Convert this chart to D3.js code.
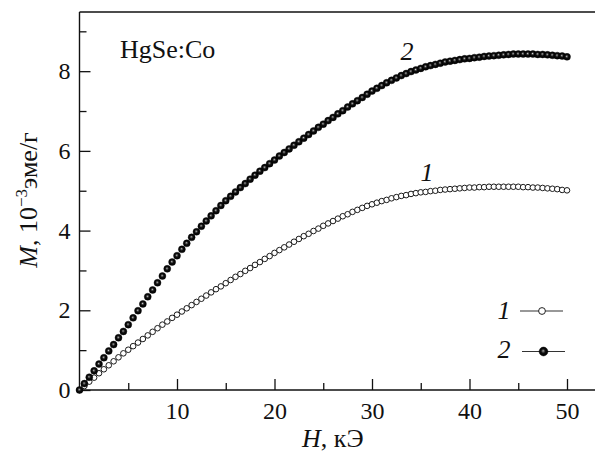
<!DOCTYPE html>
<html><head><meta charset="utf-8">
<script src="https://cdn.jsdelivr.net/npm/d3@7"></script>
<style>
html,body{margin:0;padding:0;background:#fff;}
</style></head>
<body><svg id="c" width="595" height="454" font-family="Liberation Serif"></svg>
<script>
// ---- data ----
const H = [0,0.5,1,1.5,2,2.5,3,3.5,4,4.5,5,5.5,6,6.5,7,7.5,8,8.5,9,9.5,10,10.5,11,11.5,12,12.5,13,13.5,14,14.5,15,15.5,16,16.5,17,17.5,18,18.5,19,19.5,20,20.5,21,21.5,22,22.5,23,23.5,24,24.5,25,25.5,26,26.5,27,27.5,28,28.5,29,29.5,30,30.5,31,31.5,32,32.5,33,33.5,34,34.5,35,35.5,36,36.5,37,37.5,38,38.5,39,39.5,40,40.5,41,41.5,42,42.5,43,43.5,44,44.5,45,45.5,46,46.5,47,47.5,48,48.5,49,49.5,50];
const M1 = [0.00,0.10,0.21,0.31,0.42,0.52,0.62,0.72,0.82,0.92,1.01,1.10,1.19,1.28,1.37,1.46,1.55,1.64,1.72,1.81,1.89,1.97,2.05,2.13,2.21,2.29,2.37,2.45,2.53,2.60,2.68,2.76,2.84,2.91,2.99,3.06,3.14,3.21,3.29,3.36,3.44,3.51,3.58,3.65,3.72,3.79,3.86,3.92,3.99,4.05,4.12,4.18,4.24,4.30,4.36,4.41,4.47,4.52,4.57,4.62,4.66,4.70,4.74,4.77,4.81,4.84,4.87,4.89,4.92,4.94,4.96,4.97,4.99,5.00,5.02,5.03,5.04,5.05,5.06,5.07,5.08,5.08,5.09,5.09,5.10,5.10,5.10,5.10,5.10,5.10,5.10,5.09,5.09,5.08,5.08,5.07,5.06,5.05,5.04,5.02,5.01];
const M2 = [0.00,0.16,0.32,0.48,0.65,0.81,0.98,1.14,1.31,1.47,1.64,1.81,1.99,2.16,2.34,2.51,2.69,2.86,3.04,3.21,3.37,3.53,3.68,3.83,3.97,4.11,4.24,4.37,4.50,4.63,4.75,4.86,4.97,5.08,5.18,5.29,5.39,5.49,5.58,5.68,5.77,5.87,5.96,6.05,6.14,6.23,6.32,6.41,6.50,6.59,6.67,6.76,6.84,6.93,7.01,7.10,7.18,7.26,7.34,7.42,7.50,7.57,7.64,7.71,7.77,7.83,7.89,7.94,7.99,8.03,8.07,8.11,8.14,8.17,8.20,8.23,8.25,8.27,8.29,8.31,8.32,8.34,8.35,8.37,8.38,8.39,8.40,8.41,8.42,8.43,8.43,8.43,8.43,8.43,8.42,8.42,8.41,8.40,8.39,8.38,8.36];
const xMajor = [10,20,30,40,50];
const xMinor = [5,15,25,35,45];
const yMajor = [0,2,4,6,8];
const yMinor = [1,3,5,7,9];
const seriesNames = ["1","2"];
const sampleLabel = "HgSe:Co";

// ---- layout ----
const svg = d3.select("#c");
const x = d3.scaleLinear().domain([0,50]).range([79.5,567]);
const y = d3.scaleLinear().domain([0,9.5]).range([390,11.4]);
const X0 = 79.5, Y0 = 390, YT = 12, XR = 600;
const FONT = "Liberation Serif";
const TXT = "#111";

const defs = svg.append("defs");
const g1 = defs.append("radialGradient").attr("id","ball").attr("cx","0.5").attr("cy","0.5").attr("r","0.55").attr("fx","0.45").attr("fy","0.42");
g1.append("stop").attr("offset","0").attr("stop-color","#e0e0e0");
g1.append("stop").attr("offset","0.16").attr("stop-color","#666");
g1.append("stop").attr("offset","0.45").attr("stop-color","#0d0d0d");
g1.append("stop").attr("offset","1").attr("stop-color","#000");

// frame
const frame = svg.append("g").attr("stroke","#111").attr("stroke-width",1.4).attr("fill","none");
frame.append("line").attr("x1",X0).attr("x2",XR).attr("y1",Y0).attr("y2",Y0);
frame.append("line").attr("x1",X0).attr("x2",XR).attr("y1",YT).attr("y2",YT);
frame.append("line").attr("x1",X0).attr("x2",X0).attr("y1",YT).attr("y2",Y0);

// axes
function styleAxis(g){ g.select(".domain").remove(); g.selectAll("line").attr("stroke","#111").attr("stroke-width",1.3); }
function styleText(g){ g.attr("font-family",FONT).attr("font-size",24); g.selectAll("text").attr("font-size",24).attr("font-family",FONT).attr("fill",TXT); }
svg.append("g").attr("transform",`translate(0,${Y0})`)
  .call(d3.axisBottom(x).tickValues(xMajor).tickSize(-11).tickPadding(12).tickFormat(d3.format("d")))
  .call(styleAxis).call(styleText);
svg.append("g").attr("transform",`translate(0,${Y0})`)
  .call(d3.axisBottom(x).tickValues(xMinor).tickSize(-7).tickFormat(""))
  .call(styleAxis);
svg.append("g").attr("transform",`translate(${X0},0)`)
  .call(d3.axisLeft(y).tickValues(yMajor).tickSize(-11).tickPadding(9).tickFormat(d3.format("d")))
  .call(styleAxis).call(styleText);
svg.append("g").attr("transform",`translate(${X0},0)`)
  .call(d3.axisLeft(y).tickValues(yMinor).tickSize(-7).tickFormat(""))
  .call(styleAxis);

// series 1 (open circles)
const d1 = H.map((h,i)=>({h, m:M1[i]}));
const d2 = H.map((h,i)=>({h, m:M2[i]}));
svg.append("g").selectAll("circle").data(d1).join("circle")
  .attr("cx",d=>x(d.h)).attr("cy",d=>y(d.m)).attr("r",2.8)
  .attr("fill","#fff").attr("stroke","#1a1a1a").attr("stroke-width",1);
// series 2 (filled balls)
svg.append("g").selectAll("circle").data(d2).join("circle")
  .attr("cx",d=>x(d.h)).attr("cy",d=>y(d.m)).attr("r",3.5)
  .attr("fill","url(#ball)").attr("stroke","#000").attr("stroke-width",0.4);

function txt(xp, yp, size, italic, s){
  return svg.append("text").attr("x",xp).attr("y",yp).attr("font-family",FONT).attr("font-size",size)
    .attr("font-style", italic ? "italic" : "normal").attr("fill",TXT).text(s);
}
// curve labels
txt(427,181,26,true,seriesNames[0]).attr("text-anchor","middle");
txt(407,60,26,true,seriesNames[1]).attr("text-anchor","middle");

// sample label
txt(120,58,26,false,sampleLabel);

// legend
const leg = [{lab:seriesNames[0], y:311, type:"open", tx:504, ty:319, x1:520, x2:563, mx:542},
             {lab:seriesNames[1], y:351.5, type:"ball", tx:504, ty:358, x1:522, x2:565, mx:543.5}];
leg.forEach(l=>{
  txt(l.tx,l.ty,26,true,l.lab).attr("text-anchor","middle");
  svg.append("line").attr("x1",l.x1).attr("x2",l.x2).attr("y1",l.y).attr("y2",l.y).attr("stroke","#333").attr("stroke-width",1.1);
  if(l.type==="open") svg.append("circle").attr("cx",l.mx).attr("cy",l.y).attr("r",3.4).attr("fill","#fff").attr("stroke","#222").attr("stroke-width",1);
  else svg.append("circle").attr("cx",l.mx).attr("cy",l.y).attr("r",4.4).attr("fill","url(#ball)").attr("stroke","#000").attr("stroke-width",0.5);
});

// axis titles
const xt = svg.append("text").attr("x",302).attr("y",447).attr("font-size",26).attr("font-family",FONT).attr("fill",TXT);
xt.append("tspan").attr("font-style","italic").text("H");
xt.append("tspan").text(", кЭ");

const yt = svg.append("text").attr("transform","translate(37,200) rotate(-90)").attr("text-anchor","middle")
  .attr("font-size",26).attr("font-family",FONT).attr("fill",TXT);
yt.append("tspan").attr("font-style","italic").text("M");
yt.append("tspan").text(", 10");
yt.append("tspan").attr("font-size",17).attr("dy",-10).text("−3");
yt.append("tspan").attr("dy",10).text("эме/г");
</script>
</body></html>
